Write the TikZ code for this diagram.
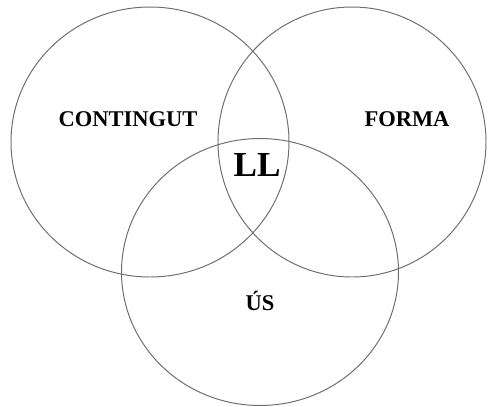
\documentclass[tikz,border=0pt]{standalone}
\usepackage{fontspec}
\setmainfont{Liberation Serif}
\usetikzlibrary{shapes.geometric}
\usepackage{xcolor}
\definecolor{ringGray}{RGB}{110,110,110}

\begin{document}
\begin{tikzpicture}[
    ring/.style={ellipse, draw=ringGray, line width=0.7pt, inner sep=0pt},
    label/.style={font=\fontsize{16}{18}\selectfont\bfseries, anchor=base},
    core/.style={font=\fontsize{25}{28}\selectfont\bfseries, anchor=base}
]
\useasboundingbox (0,0) rectangle (12.2,-10.15);
\node[ring, minimum width=6.95cm, minimum height=6.75cm] (contingut) at (3.75,-3.55) {};
\node[ring, minimum width=6.7cm, minimum height=6.75cm] (forma) at (8.8,-3.55) {};
\node[ring, minimum width=6.925cm, minimum height=6.675cm] (us) at (6.5,-6.8) {};

\node[label] (contingutText) at (3.2,-3.15) {CONTINGUT};
\node[label] (formaText) at (10.175,-3.15) {FORMA};
\node[label] (usText) at (6.5,-7.75) {ÚS};
\node[core] (ll) at (6.425,-4.4) {LL};
\end{tikzpicture}
\end{document}
